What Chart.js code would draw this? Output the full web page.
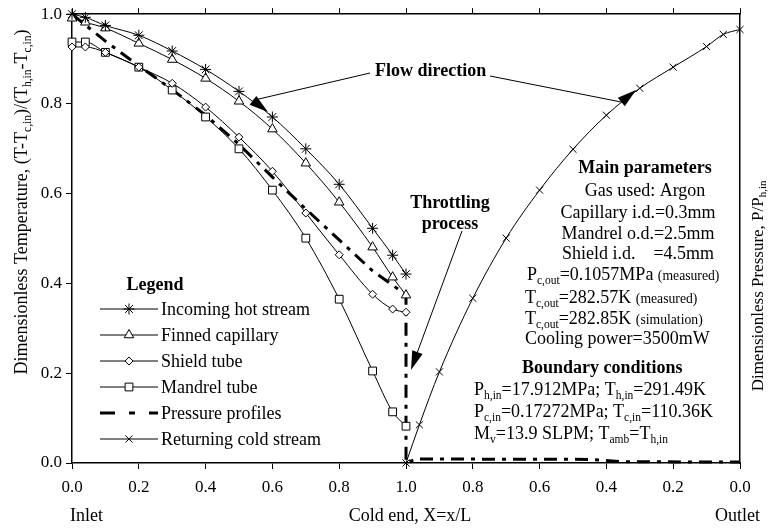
<!DOCTYPE html>
<html>
<head>
<meta charset="utf-8">
<script src="https://cdn.jsdelivr.net/npm/chart.js@4.4.1/dist/chart.umd.min.js"></script>
<style>
  body { margin: 0; background: #fff; }
  #wrap { width: 770px; height: 528px; position: relative; }
</style>
</head>
<body>
<div id="wrap"><canvas id="chart"></canvas></div>
<script>
// position along the exchanger, X = x/L (hot side runs 0 -> 1)
const posX = [0, 0.04, 0.1, 0.2, 0.3, 0.4, 0.5, 0.6, 0.7, 0.8, 0.9, 0.96, 1.0];
const hotStream  = [1.000, 0.993, 0.975, 0.953, 0.918, 0.877, 0.828, 0.771, 0.700, 0.621, 0.523, 0.463, 0.421];
const finnedCap  = [0.991, 0.982, 0.969, 0.935, 0.899, 0.857, 0.806, 0.744, 0.668, 0.581, 0.481, 0.414, 0.374];
const shieldTube = [0.927, 0.927, 0.915, 0.882, 0.846, 0.793, 0.726, 0.650, 0.557, 0.464, 0.376, 0.343, 0.336];
const mandrel    = [0.938, 0.938, 0.915, 0.882, 0.831, 0.771, 0.700, 0.608, 0.501, 0.365, 0.205, 0.114, 0.082];

// returning cold stream, X read from the cold end back to the outlet
const coldPos    = [1.0, 0.96, 0.9, 0.8, 0.7, 0.6, 0.5, 0.4, 0.3, 0.2, 0.1, 0.05, 0.0];
const coldStream = [0.000, 0.085, 0.203, 0.367, 0.501, 0.608, 0.699, 0.775, 0.835, 0.882, 0.928, 0.955, 0.966];

// pressure profile on the unfolded axis (0..1 hot side, 1..2 cold side)
const presPos = [0, 0.1, 0.2, 0.3, 0.4, 0.5, 0.6, 0.7, 0.8, 0.9, 1.0, 1.0, 1.03, 1.55, 1.65, 2.0];
const presVal = [1.0, 0.94, 0.885, 0.832, 0.775, 0.71, 0.637, 0.566, 0.497, 0.428, 0.375, 0.0, 0.009, 0.008, 0.003, 0.002];

const xTickLabels = ['0.0', '0.2', '0.4', '0.6', '0.8', '1.0', '0.8', '0.6', '0.4', '0.2', '0.0'];
const yTickLabels = ['0.0', '0.2', '0.4', '0.6', '0.8', '1.0'];

const FONT = 'Liberation Serif';
Chart.defaults.font.family = FONT;
Chart.defaults.color = '#000';

function pts(xs, ys) { return xs.map((x, i) => ({ x: x, y: ys[i] })); }

function series(label, data, style, radius) {
  return {
    label: label, data: data, xAxisID: 'x', yAxisID: 'y',
    borderColor: '#000', borderWidth: 1, backgroundColor: '#fff',
    pointStyle: style, pointRadius: radius, pointHoverRadius: radius,
    pointBorderColor: '#000', pointBackgroundColor: '#fff', pointBorderWidth: 1,
    cubicInterpolationMode: 'monotone', clip: false
  };
}

const datasets = [
  series('Incoming hot stream', pts(posX, hotStream), 'star', 5.5),
  series('Finned capillary', pts(posX, finnedCap), 'triangle', 5.5),
  series('Shield tube', pts(posX, shieldTube), 'rectRot', 4),
  series('Mandrel tube', pts(posX, mandrel), 'rect', 5.5),
  {
    label: 'Pressure profiles', data: pts(presPos, presVal), xAxisID: 'x', yAxisID: 'y2',
    borderColor: '#000', borderWidth: 3, borderDash: [13, 7, 4, 7],
    pointRadius: 0, tension: 0, clip: false
  },
  series('Returning cold stream', pts(coldPos.map(v => 2 - v), coldStream), 'crossRot', 5)
];

// text with subscripts: parts are strings or [text, 'sub'|'small']
function rich(ctx, parts, x, y, align, size, weight) {
  const segs = parts.map(p => typeof p === 'string' ? { t: p, k: 'n' } : { t: p[0], k: p[1] });
  let total = 0;
  segs.forEach(s => {
    const fs = s.k === 'n' ? size : (s.k === 'sub' ? size * 0.64 : size * 0.76);
    s.font = (weight || 'normal') + ' ' + fs + 'px "' + FONT + '"';
    ctx.font = s.font;
    s.w = ctx.measureText(s.t).width;
    s.dy = s.k === 'sub' ? size * 0.22 : 0;
    total += s.w;
  });
  let cx = align === 'center' ? x - total / 2 : (align === 'right' ? x - total : x);
  ctx.textAlign = 'left';
  ctx.textBaseline = 'alphabetic';
  const base = y + size * 0.33;
  segs.forEach(s => { ctx.font = s.font; ctx.fillText(s.t, cx, base + s.dy); cx += s.w; });
}

function arrow(ctx, x0, y0, tx, ty, dx, dy) {
  const len = Math.hypot(dx, dy), ux = dx / len, uy = dy / len;
  const bx = tx - ux * 19, by = ty - uy * 19;
  ctx.beginPath(); ctx.moveTo(x0, y0); ctx.lineTo(bx, by); ctx.stroke();
  ctx.beginPath();
  ctx.moveTo(tx, ty);
  ctx.lineTo(bx - uy * 5.5, by + ux * 5.5);
  ctx.lineTo(bx + uy * 5.5, by - ux * 5.5);
  ctx.closePath(); ctx.fill();
}

const notes = {
  id: 'notes',
  afterDraw(chart) {
    const ctx = chart.ctx;
    ctx.save();
    ctx.fillStyle = '#000'; ctx.strokeStyle = '#000'; ctx.lineWidth = 1;

    // axis titles
    ctx.save(); ctx.translate(21, 202); ctx.rotate(-Math.PI / 2);
    rich(ctx, ['Dimensionless Temperature, (T-T', ['c,in', 'sub'], ')/(T', ['h,in', 'sub'], '-T', ['c,in', 'sub'], ')'], 0, 0, 'center', 18);
    ctx.restore();
    ctx.save(); ctx.translate(757, 286); ctx.rotate(-Math.PI / 2);
    rich(ctx, ['Dimensionless Pressure, P/P', ['h,in', 'sub']], 0, 0, 'center', 17);
    ctx.restore();

    rich(ctx, ['Inlet'], 70, 515, 'left', 18);
    rich(ctx, ['Cold end, X=x/L'], 410, 515, 'center', 18);
    rich(ctx, ['Outlet'], 760, 515, 'right', 18);

    // flow annotations
    rich(ctx, ['Flow direction'], 375, 70, 'left', 18, 'bold');
    arrow(ctx, 370, 73, 268, 112, 33, 25.6);
    arrow(ctx, 490, 76, 636, 90, 33, -27);
    rich(ctx, ['Throttling'], 450, 202, 'center', 18, 'bold');
    rich(ctx, ['process'], 450, 223, 'center', 18, 'bold');
    arrow(ctx, 462, 231, 411, 370, -51, 142);

    // main parameters
    rich(ctx, ['Main parameters'], 645, 167, 'center', 18, 'bold');
    rich(ctx, ['Gas used: Argon'], 645, 190, 'center', 18);
    rich(ctx, ['Capillary i.d.=0.3mm'], 638, 212, 'center', 18);
    rich(ctx, ['Mandrel o.d.=2.5mm'], 638, 233, 'center', 18);
    rich(ctx, ['Shield i.d.    =4.5mm'], 638, 253, 'center', 18);
    rich(ctx, ['P', ['c,out', 'sub'], '=0.1057MPa ', ['(measured)', 'small']], 527, 274, 'left', 18);
    rich(ctx, ['T', ['c,out', 'sub'], '=282.57K ', ['(measured)', 'small']], 525, 297, 'left', 18);
    rich(ctx, ['T', ['c,out', 'sub'], '=282.85K ', ['(simulation)', 'small']], 525, 318, 'left', 18);
    rich(ctx, ['Cooling power=3500mW'], 525, 338, 'left', 18);

    // boundary conditions
    rich(ctx, ['Boundary conditions'], 522, 367, 'left', 18, 'bold');
    rich(ctx, ['P', ['h,in', 'sub'], '=17.912MPa; T', ['h,in', 'sub'], '=291.49K'], 474, 389, 'left', 18);
    rich(ctx, ['P', ['c,in', 'sub'], '=0.17272MPa; T', ['c,in', 'sub'], '=110.36K'], 474, 411, 'left', 18);
    rich(ctx, ['M', ['v', 'sub'], '=13.9 SLPM; T', ['amb', 'sub'], '=T', ['h,in', 'sub']], 474, 433, 'left', 18);

    // legend
    rich(ctx, ['Legend'], 155, 284, 'center', 18, 'bold');
    const rowY = [309, 335, 361, 387, 413, 439];
    chart.data.datasets.forEach((ds, i) => {
      const y = rowY[i];
      ctx.save();
      ctx.lineWidth = ds.borderWidth;
      if (ds.borderDash) ctx.setLineDash([15, 14, 6, 14]);
      ctx.beginPath(); ctx.moveTo(100, y); ctx.lineTo(158, y); ctx.stroke();
      ctx.restore();
      if (ds.pointRadius) {
        ctx.save();
        ctx.fillStyle = '#fff'; ctx.strokeStyle = '#000'; ctx.lineWidth = 1;
        Chart.helpers.drawPoint(ctx, { pointStyle: ds.pointStyle, radius: ds.pointRadius, rotation: 0, borderWidth: 1 }, 129, y);
        ctx.restore();
      }
      rich(ctx, [ds.label], 161, y, 'left', 18);
    });
    ctx.restore();
  }
};

const axisGrid = { drawOnChartArea: false, tickLength: 6, tickColor: '#000', tickWidth: 1 };
const axisBorder = { color: '#000', width: 1.5 };

new Chart(document.getElementById('chart'), {
  type: 'line',
  data: { datasets: datasets },
  options: {
    responsive: true, maintainAspectRatio: false, animation: false,
    layout: { padding: 0 },
    plugins: { legend: { display: false }, tooltip: { enabled: false } },
    scales: {
      x: {
        type: 'linear', position: 'bottom', min: 0, max: 2,
        ticks: { stepSize: 0.2, autoSkip: false, maxRotation: 0, padding: 8,
                 font: { size: 17 }, callback: (v, i) => xTickLabels[i] },
        grid: axisGrid, border: axisBorder,
        afterFit: s => { s.height = 65; }
      },
      xTop: {
        type: 'linear', position: 'top', min: 0, max: 2,
        ticks: { stepSize: 0.2, autoSkip: false, callback: () => '' },
        grid: axisGrid, border: axisBorder,
        afterFit: s => { s.height = 14; }
      },
      y: {
        position: 'left', min: 0, max: 1,
        ticks: { stepSize: 0.2, padding: 4, font: { size: 17 }, callback: (v, i) => yTickLabels[i] },
        grid: axisGrid, border: axisBorder,
        afterFit: s => { s.width = 72; }
      },
      y2: {
        position: 'right', min: 0, max: 1,
        ticks: { display: false },
        grid: { display: false }, border: axisBorder,
        afterFit: s => { s.width = 30; }
      }
    }
  },
  plugins: [notes]
});
</script>
</body>
</html>
